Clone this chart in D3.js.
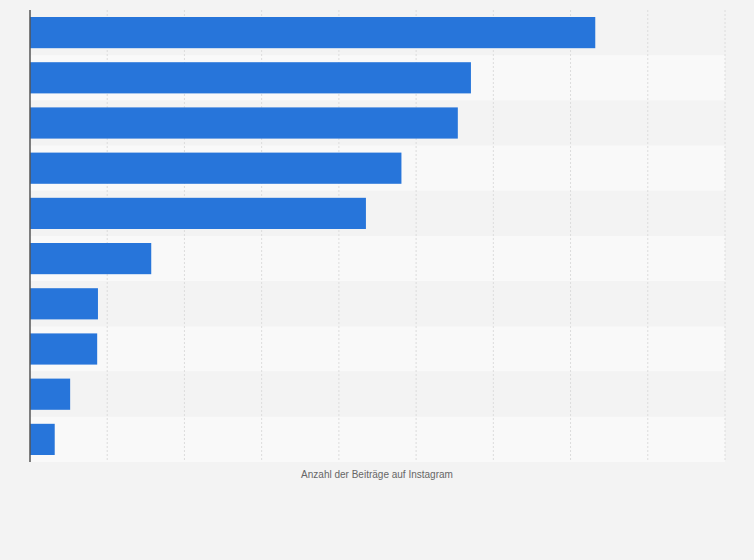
<!DOCTYPE html>
<html><head><meta charset="utf-8">
<script src="https://cdn.jsdelivr.net/npm/d3@7"></script>
<style>body{margin:0;background:#f3f3f3}</style></head>
<body><svg id="c" width="754" height="560"></svg>
<script>
const categories = ["1","2","3","4","5","6","7","8","9","10"];
const values = [7.32, 5.71, 5.54, 4.81, 4.35, 1.57, 0.88, 0.87, 0.52, 0.32];
const xTicks = [0,1,2,3,4,5,6,7,8,9];
const axisTitle = "Anzahl der Beiträge auf Instagram";

const svg = d3.select("#c");
const L=30, R=725, T=10, B=462;
const x = d3.scaleLinear().domain([0,9]).range([L,R]);
const y = d3.scaleBand().domain(categories).range([T,B]).paddingInner(0.31).paddingOuter(0.155);
const band = d3.scaleBand().domain(categories).range([T,B]);

svg.append("rect").attr("width",754).attr("height",560).attr("fill","#f3f3f3");
svg.selectAll(".row").data(categories).join("rect")
  .attr("x",L).attr("y",d=>band(d)).attr("width",R-L).attr("height",band.bandwidth())
  .attr("fill",(d,i)=>i%2?"#f9f9f9":"#f3f3f3");
svg.selectAll(".grid").data(xTicks.slice(1)).join("line")
  .attr("x1",d=>x(d)).attr("x2",d=>x(d)).attr("y1",T).attr("y2",B)
  .attr("stroke","#dcdcdc").attr("stroke-dasharray","2,2");
svg.selectAll(".bar").data(values).join("rect")
  .attr("x",L).attr("y",(d,i)=>y(categories[i])).attr("height",y.bandwidth())
  .attr("width",d=>x(d)-L).attr("fill","#2775da");
svg.append("line").attr("x1",L).attr("x2",L).attr("y1",T).attr("y2",B).attr("stroke","#555").attr("stroke-width",1.5);
svg.append("text").attr("x",377).attr("y",478).attr("text-anchor","middle")
  .attr("font-family","Arial, Liberation Sans, sans-serif").attr("font-size",10).attr("fill","#666").text(axisTitle);
</script></body></html>
